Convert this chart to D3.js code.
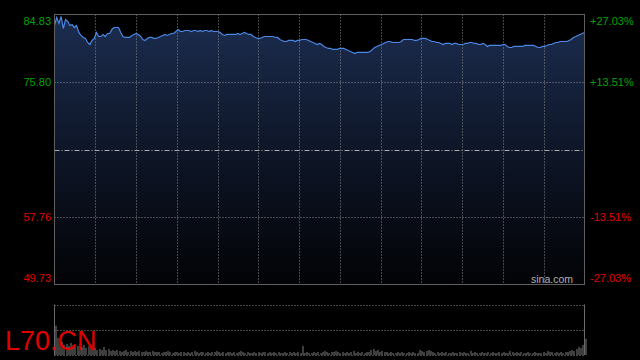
<!DOCTYPE html>
<html><head><meta charset="utf-8">
<script src="https://cdn.jsdelivr.net/npm/d3@7"></script>
<style>html,body{margin:0;padding:0;background:#000;}svg{display:block;}</style>
</head><body>
<svg id="c" width="640" height="360"></svg>
<script>
const prevClose = 66.78;
const pctLimit = 27.03;
const leftLabels = ["84.83","75.80","57.76","49.73"];
const rightLabels = ["+27.03%","+13.51%","-13.51%","-27.03%"];
const labelPcts = [27.03, 13.51, -13.51, -27.03];
const symbol = "L70.CN";
const watermark = "sina.com";
const prices = [
83.36,84.43,83.63,84.56,82.96,84.16,83.90,83.36,83.49,83.09,
83.36,82.43,82.03,81.76,81.63,81.09,80.82,81.36,81.63,82.43,
81.89,81.89,82.16,81.89,82.29,82.29,82.83,83.09,83.09,83.09,
82.43,81.89,81.76,81.76,81.76,82.03,82.16,82.29,82.16,81.89,
81.49,81.36,81.63,81.76,81.76,81.63,81.63,81.76,81.89,82.03,
82.16,82.03,82.16,82.29,82.29,82.56,82.83,82.56,82.56,82.69,
82.69,82.69,82.56,82.69,82.69,82.56,82.69,82.56,82.69,82.69,
82.56,82.69,82.56,82.56,82.56,82.43,82.16,82.03,82.16,82.16,
82.16,82.16,82.16,82.29,82.16,82.29,82.43,82.29,82.16,82.16,
81.89,81.76,81.63,81.63,81.76,81.89,81.89,81.89,81.89,81.89,
81.76,81.76,81.49,81.36,81.22,81.22,81.36,81.36,81.36,81.22,
81.36,81.36,81.49,81.49,81.49,81.36,81.22,81.09,80.96,80.82,
80.96,80.82,80.56,80.42,80.29,80.29,80.16,80.16,80.16,80.29,
80.29,80.29,80.16,80.02,79.89,79.76,79.62,79.76,79.76,79.76,
79.76,79.76,79.76,79.89,80.16,80.42,80.56,80.69,80.82,80.96,
81.09,81.22,81.22,81.09,81.09,81.09,81.09,81.22,81.49,81.49,
81.49,81.49,81.49,81.36,81.36,81.49,81.63,81.63,81.63,81.49,
81.36,81.22,81.22,81.09,81.09,80.96,80.82,80.96,80.96,80.96,
80.82,80.96,80.96,80.82,80.82,80.82,80.96,80.96,81.09,81.09,
80.96,80.96,80.82,80.82,80.96,80.82,80.56,80.69,80.69,80.69,
80.69,80.69,80.69,80.82,80.82,80.56,80.42,80.42,80.56,80.56,
80.56,80.56,80.56,80.69,80.69,80.69,80.69,80.69,80.56,80.42,
80.42,80.56,80.56,80.69,80.82,80.82,80.96,81.09,81.09,81.22,
81.22,81.22,81.22,81.36,81.49,81.76,81.89,82.03,82.16,82.29,82.43
];
const volumes = [
29,17,12,13,10,11,9,12,10,8,
9,11,8,10,7,9,8,6,7,5,
6,5,8,5,6,4,5,4,5,4,
3,4,5,3,4,3,4,3,4,3,
3,4,3,3,4,3,3,3,2,3,
3,4,3,2,3,3,2,3,3,2,
3,2,3,4,3,2,3,3,2,3,
2,3,3,4,3,2,3,2,3,3,
2,3,2,3,4,3,2,3,2,2,
3,2,3,2,3,3,2,3,2,3,
2,3,2,2,3,2,3,2,3,2,
3,2,9,2,3,2,2,3,2,3,
2,3,4,3,2,3,3,4,3,2,
3,2,3,2,3,4,2,3,2,3,
2,3,3,5,6,4,5,3,4,3,
3,2,3,2,2,3,2,3,2,2,
3,2,3,2,2,5,4,3,4,5,
4,3,2,3,2,3,2,3,2,2,
3,2,2,3,2,3,2,2,4,2,
3,2,2,3,2,2,3,2,3,2,
2,3,2,3,2,2,4,3,2,3,
2,3,2,2,3,2,2,3,2,2,
2,3,2,4,3,3,2,3,2,3,
2,3,3,4,5,4,6,8,7,10,16
];
const volMax = 50;

const svg = d3.select("#c");
const L = 54.5, R = 584.5, T = 14.5, B = 284.5;
const VT = 304.5, VB = 355;

const x = d3.scaleLinear().domain([0, prices.length - 1]).range([L, R]);
const pctScale = d3.scaleLinear().domain([-pctLimit, pctLimit]).range([B, T]);
const y = d3.scaleLinear()
  .domain([prevClose * (1 - pctLimit / 100), prevClose * (1 + pctLimit / 100)])
  .range([B, T]);
const yv = d3.scaleLinear().domain([0, volMax]).range([VB, VT]);
const gridX = d3.scaleLinear().domain([0, 13]).range([L, R]);

// gradient
const defs = svg.append("defs");
const grad = defs.append("linearGradient").attr("id","g").attr("x1",0).attr("y1",0).attr("x2",0).attr("y2",1)
  .attr("gradientUnits","userSpaceOnUse").attr("x1",0).attr("y1",T).attr("x2",0).attr("y2",B);
grad.append("stop").attr("offset","0%").attr("stop-color","#1c2d50");
grad.append("stop").attr("offset","50%").attr("stop-color","#0e1628");
grad.append("stop").attr("offset","100%").attr("stop-color","#020306");

// area + line
const area = d3.area().x((d,i)=>x(i)).y0(B).y1(d=>y(d));
svg.append("path").datum(prices).attr("d", area).attr("fill","url(#g)");

// grid verticals
svg.append("g").selectAll("line").data(d3.range(1,13)).join("line")
  .attr("x1", d=>Math.round(gridX(d))+0.5).attr("x2", d=>Math.round(gridX(d))+0.5)
  .attr("y1", T).attr("y2", B)
  .attr("stroke","#8a8a8a").attr("stroke-width",1).attr("stroke-dasharray","1,2");
// grid horizontals
svg.append("g").selectAll("line").data([13.51,-13.51]).join("line")
  .attr("x1", L).attr("x2", R)
  .attr("y1", d=>Math.round(pctScale(d))+0.5).attr("y2", d=>Math.round(pctScale(d))+0.5)
  .attr("stroke","#8a8a8a").attr("stroke-width",1).attr("stroke-dasharray","1,2");
// base line (prev close)
svg.append("line").attr("x1",L).attr("x2",R)
  .attr("y1",Math.round(pctScale(0))+0.5).attr("y2",Math.round(pctScale(0))+0.5)
  .attr("stroke","#aaaaaa").attr("stroke-width",1).attr("stroke-dasharray","5,2,1,2");

const line = d3.line().x((d,i)=>x(i)).y(d=>y(d));
svg.append("path").datum(prices).attr("d", line).attr("fill","none")
  .attr("stroke","#4a88e8").attr("stroke-width",1.2);

// main border
svg.append("rect").attr("x",L).attr("y",T).attr("width",R-L).attr("height",B-T)
  .attr("fill","none").attr("stroke","#5f5f5f").attr("stroke-width",1);

// labels
svg.append("g").selectAll("text").data(leftLabels).join("text")
  .attr("x", 51).attr("y", (d,i)=>pctScale(labelPcts[i]))
  .attr("dy", (d,i)=> i===0 ? "0.95em" : (i===3 ? "-0.2em" : "0.36em"))
  .attr("text-anchor","end")
  .attr("font-family","Liberation Sans, Arial, sans-serif").attr("font-size",11)
  .attr("fill",(d,i)=> labelPcts[i] > 0 ? "#00a400" : "#e00000")
  .text(d=>d);
svg.append("g").selectAll("text").data(rightLabels).join("text")
  .attr("x", 590).attr("y", (d,i)=>pctScale(labelPcts[i]))
  .attr("dy", (d,i)=> i===0 ? "0.95em" : (i===3 ? "-0.2em" : "0.36em"))
  .attr("text-anchor","start")
  .attr("font-family","Liberation Sans, Arial, sans-serif").attr("font-size",11)
  .attr("fill",(d,i)=> labelPcts[i] > 0 ? "#00a400" : "#e00000")
  .text(d=>d);

svg.append("text").attr("x",573).attr("y",283).attr("text-anchor","end")
  .attr("font-family","Liberation Sans, Arial, sans-serif").attr("font-size",10.5)
  .attr("fill","#b0b0b0").text(watermark);

// volume panel
svg.append("g").selectAll("line").data([volMax, volMax/2, 0]).join("line")
  .attr("x1",L).attr("x2",R)
  .attr("y1",d=>Math.round(yv(d))+0.5).attr("y2",d=>Math.round(yv(d))+0.5)
  .attr("stroke","#8a8a8a").attr("stroke-width",1).attr("stroke-dasharray","1,2");
svg.append("g").selectAll("rect").data(volumes).join("rect")
  .attr("x",(d,i)=>Math.round(x(i))+0.5).attr("width",1)
  .attr("y",d=>yv(d)).attr("height",d=>VB - yv(d))
  .attr("fill","#7c7c7c");
svg.append("g").selectAll("line").data([L,R]).join("line")
  .attr("x1",d=>d).attr("x2",d=>d).attr("y1",VT).attr("y2",VB)
  .attr("stroke","#6a6a6a").attr("stroke-width",1);

svg.append("text").attr("x",5).attr("y",349.5)
  .attr("font-family","Liberation Sans, Arial, sans-serif").attr("font-size",27)
  .attr("fill","#e00000").text(symbol);
</script>
</body></html>
